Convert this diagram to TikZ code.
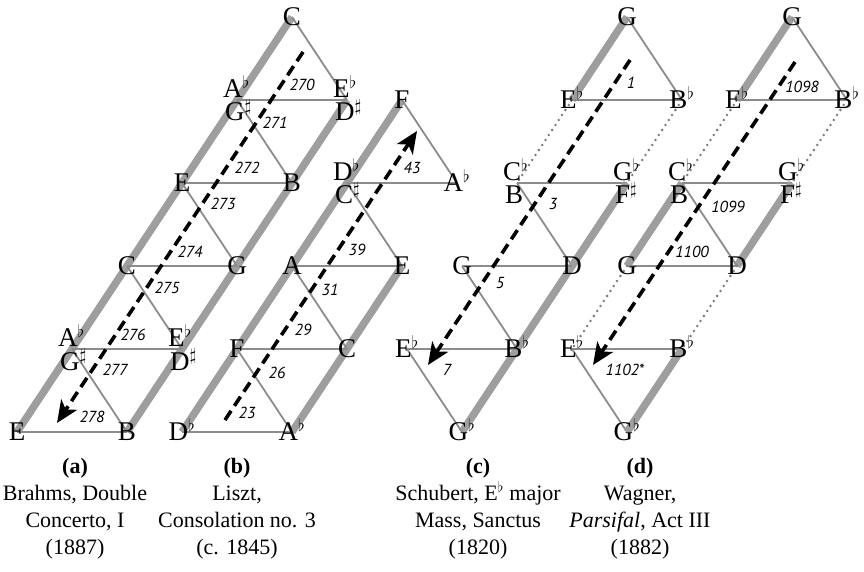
\documentclass[tikz,border=0pt]{standalone}
\usepackage{fontspec}
\setmainfont{Liberation Serif}
\newfontfamily\numfont{PT Sans}
\usetikzlibrary{arrows.meta}
\definecolor{thk}{RGB}{158,158,158}
\definecolor{thn}{RGB}{140,140,140}
\definecolor{dotc}{RGB}{125,125,125}
\newcommand\flt{\smash{\ensuremath{^{\flat}}}}
\newcommand\shp{\smash{\ensuremath{^{\sharp}}}}
\tikzset{
  bigedge/.style={draw=thk, line width=7.5pt},
  thinedge/.style={draw=thn, line width=1.8pt},
  dotedge/.style={draw=dotc, line width=2.8pt, line cap=round, dash pattern=on 0pt off 6pt},
  dasharrow/.style={draw=black, line width=3.6pt, dash pattern=on 11pt off 6pt,
    -{Stealth[length=22pt,width=19pt,inset=6pt]}},
  nf/.style={font=\fontsize{27}{27}\selectfont, inner sep=0pt},
  single/.style={nf, anchor=base, yshift=-8.9pt},
  upr/.style={nf, anchor=base west, xshift=-14pt, yshift=2.6pt},
  lwr/.style={nf, anchor=base west, xshift=-12pt, yshift=-21pt},
  num/.style={font=\numfont\itshape\fontsize{16}{16}\selectfont, inner sep=0pt},
  captext/.style={font=\fontsize{22}{27}\selectfont, align=center, anchor=north, inner sep=0pt}
}
\begin{document}
\begin{tikzpicture}[x=1pt,y=1pt]
\useasboundingbox (0,0) rectangle (864,571);
% ---------- vertices ----------
% panel (a)
\coordinate (a00) at (17,139);  \coordinate (a01) at (127,139);
\coordinate (a10) at (72,222);  \coordinate (a11) at (182,222);
\coordinate (a20) at (127,305); \coordinate (a21) at (237,305);
\coordinate (a30) at (182,388); \coordinate (a31) at (292,388);
\coordinate (a40) at (237,471); \coordinate (a41) at (347,471);
\coordinate (a50) at (292,554);
% panel (b)
\coordinate (b00) at (182,139); \coordinate (b01) at (292,139);
\coordinate (b10) at (237,222); \coordinate (b11) at (347,222);
\coordinate (b20) at (292,305); \coordinate (b21) at (402,305);
\coordinate (b30) at (347,388); \coordinate (b31) at (457,388);
\coordinate (b40) at (402,471);
% panel (c)
\coordinate (c00) at (462,139);
\coordinate (c10) at (407,222); \coordinate (c11) at (517,222);
\coordinate (c20) at (462,305); \coordinate (c21) at (572,305);
\coordinate (c30) at (517,388); \coordinate (c31) at (627,388);
\coordinate (c40) at (572,471); \coordinate (c41) at (682,471);
\coordinate (c50) at (627,554);
% panel (d)
\coordinate (d00) at (627,139);
\coordinate (d10) at (572,222); \coordinate (d11) at (682,222);
\coordinate (d20) at (627,305); \coordinate (d21) at (737,305);
\coordinate (d30) at (682,388); \coordinate (d31) at (792,388);
\coordinate (d40) at (737,471); \coordinate (d41) at (847,471);
\coordinate (d50) at (792,554);
% arrow ends
\coordinate (as) at (303,519); \coordinate (ae) at (57,148);
\coordinate (bs) at (225,151); \coordinate (be) at (417,440);
\coordinate (cs) at (630,511); \coordinate (ce) at (428,206);
\coordinate (ds) at (795,509); \coordinate (de) at (593,206);

% ---------- edges ----------
% (a)
\draw[bigedge] (a00) -- (a50);
\draw[bigedge] (a01) -- (a41);
\draw[thinedge] (a00) -- (a01);
\draw[thinedge] (a10) -- (a11);
\draw[thinedge] (a20) -- (a21);
\draw[thinedge] (a30) -- (a31);
\draw[thinedge] (a40) -- (a41);
\draw[thinedge] (a10) -- (a01);
\draw[thinedge] (a20) -- (a11);
\draw[thinedge] (a30) -- (a21);
\draw[thinedge] (a40) -- (a31);
\draw[thinedge] (a50) -- (a41);
% (b)
\draw[bigedge] (b00) -- (b40);
\draw[bigedge] (b01) -- (b21);
\draw[thinedge] (b00) -- (b01);
\draw[thinedge] (b10) -- (b11);
\draw[thinedge] (b20) -- (b21);
\draw[thinedge] (b30) -- (b31);
\draw[thinedge] (b10) -- (b01);
\draw[thinedge] (b20) -- (b11);
\draw[thinedge] (b30) -- (b21);
\draw[thinedge] (b40) -- (b31);
% (c)
\draw[bigedge] (c50) -- (c40);
\draw[thinedge] (c50) -- (c41);
\draw[thinedge] (c40) -- (c41);
\draw[dotedge] (c40) -- (c30);
\draw[dotedge] (c41) -- (c31);
\draw[thinedge] (c30) -- (c31);
\draw[thinedge] (c30) -- (c21);
\draw[bigedge] (c31) -- (c00);
\draw[thinedge] (c20) -- (c21);
\draw[thinedge] (c20) -- (c11);
\draw[thinedge] (c10) -- (c11);
\draw[thinedge] (c10) -- (c00);
% (d)
\draw[bigedge] (d50) -- (d40);
\draw[thinedge] (d50) -- (d41);
\draw[thinedge] (d40) -- (d41);
\draw[dotedge] (d40) -- (d30);
\draw[dotedge] (d41) -- (d31);
\draw[thinedge] (d30) -- (d31);
\draw[bigedge] (d30) -- (d20);
\draw[bigedge] (d31) -- (d21);
\draw[thinedge] (d30) -- (d21);
\draw[thinedge] (d20) -- (d21);
\draw[dotedge] (d20) -- (d10);
\draw[dotedge] (d21) -- (d11);
\draw[thinedge] (d10) -- (d11);
\draw[thinedge] (d10) -- (d00);
\draw[bigedge] (d11) -- (d00);

% ---------- dashed arrows ----------
\draw[dasharrow] (as) -- (ae);
\draw[dasharrow] (bs) -- (be);
\draw[dasharrow] (cs) -- (ce);
\draw[dasharrow] (ds) -- (de);

% ---------- note names ----------
% (a)
\node[single] (La00) at (a00) {E};
\node[single] (La01) at (a01) {B};
\node[upr] (La10u) at (a10) {A\flt};
\node[lwr] (La10l) at (a10) {G\shp};
\node[upr] (La11u) at (a11) {E\flt};
\node[lwr] (La11l) at (a11) {D\shp};
\node[single] (La20) at (a20) {C};
\node[single] (La21) at (a21) {G};
\node[single] (La30) at (a30) {E};
\node[single] (La31) at (a31) {B};
\node[upr] (La40u) at (a40) {A\flt};
\node[lwr] (La40l) at (a40) {G\shp};
\node[upr] (La41u) at (a41) {E\flt};
\node[lwr] (La41l) at (a41) {D\shp};
\node[single] (La50) at (a50) {C};
% (b)
\node[single] (Lb00) at (b00) {D\flt};
\node[single] (Lb01) at (b01) {A\flt};
\node[single] (Lb10) at (b10) {F};
\node[single] (Lb11) at (b11) {C};
\node[single] (Lb20) at (b20) {A};
\node[single] (Lb21) at (b21) {E};
\node[upr] (Lb30u) at (b30) {D\flt};
\node[lwr] (Lb30l) at (b30) {C\shp};
\node[single] (Lb31) at (b31) {A\flt};
\node[single] (Lb40) at (b40) {F};
% (c)
\node[single] (Lc00) at (c00) {G\flt};
\node[single] (Lc10) at (c10) {E\flt};
\node[single] (Lc11) at (c11) {B\flt};
\node[single] (Lc20) at (c20) {G};
\node[single] (Lc21) at (c21) {D};
\node[upr] (Lc30u) at (c30) {C\flt};
\node[lwr] (Lc30l) at (c30) {B};
\node[upr] (Lc31u) at (c31) {G\flt};
\node[lwr] (Lc31l) at (c31) {F\shp};
\node[single] (Lc40) at (c40) {E\flt};
\node[single] (Lc41) at (c41) {B\flt};
\node[single] (Lc50) at (c50) {G};
% (d)
\node[single] (Ld00) at (d00) {G\flt};
\node[single] (Ld10) at (d10) {E\flt};
\node[single] (Ld11) at (d11) {B\flt};
\node[single] (Ld20) at (d20) {G};
\node[single] (Ld21) at (d21) {D};
\node[upr] (Ld30u) at (d30) {C\flt};
\node[lwr] (Ld30l) at (d30) {B};
\node[upr] (Ld31u) at (d31) {G\flt};
\node[lwr] (Ld31l) at (d31) {F\shp};
\node[single] (Ld40) at (d40) {E\flt};
\node[single] (Ld41) at (d41) {B\flt};
\node[single] (Ld50) at (d50) {G};

% ---------- measure numbers ----------
\node[num] (n270) at (302,486) {270};
\node[num] (n271) at (275,448) {271};
\node[num] (n272) at (247,403) {272};
\node[num] (n273) at (223,367) {273};
\node[num] (n274) at (190,319) {274};
\node[num] (n275) at (167,283) {275};
\node[num] (n276) at (133,236) {276};
\node[num] (n277) at (115,201) {277};
\node[num] (n278) at (92,154) {278};
\node[num] (n23) at (247,158) {23};
\node[num] (n26) at (277,198) {26};
\node[num] (n29) at (303,241) {29};
\node[num] (n31) at (330,281) {31};
\node[num] (n39) at (357,321) {39};
\node[num] (n43) at (412,403) {43};
\node[num] (n1) at (631,488) {1};
\node[num] (n3) at (553,367) {3};
\node[num] (n5) at (500,288) {5};
\node[num] (n7) at (447,201) {7};
\node[num] (n1098) at (802,484) {1098};
\node[num] (n1099) at (728,364) {1099};
\node[num] (n1100) at (692,319) {1100};
\node[num] (n1102) at (625,201) {1102*};

% ---------- captions ----------
\node[captext] (capa) at (75,113) {\textbf{(a)}\\Brahms, Double\\Concerto, I\\(1887)};
\node[captext] (capb) at (237,113) {\textbf{(b)}\\Liszt,\\Consolation no. 3\\(c. 1845)};
\node[captext] (capc) at (478,113) {\textbf{(c)}\\Schubert, E\flt{} major\\Mass, Sanctus\\(1820)};
\node[captext] (capd) at (640,113) {\textbf{(d)}\\Wagner,\\\textit{Parsifal}, Act III\\(1882)};
\end{tikzpicture}
\end{document}
